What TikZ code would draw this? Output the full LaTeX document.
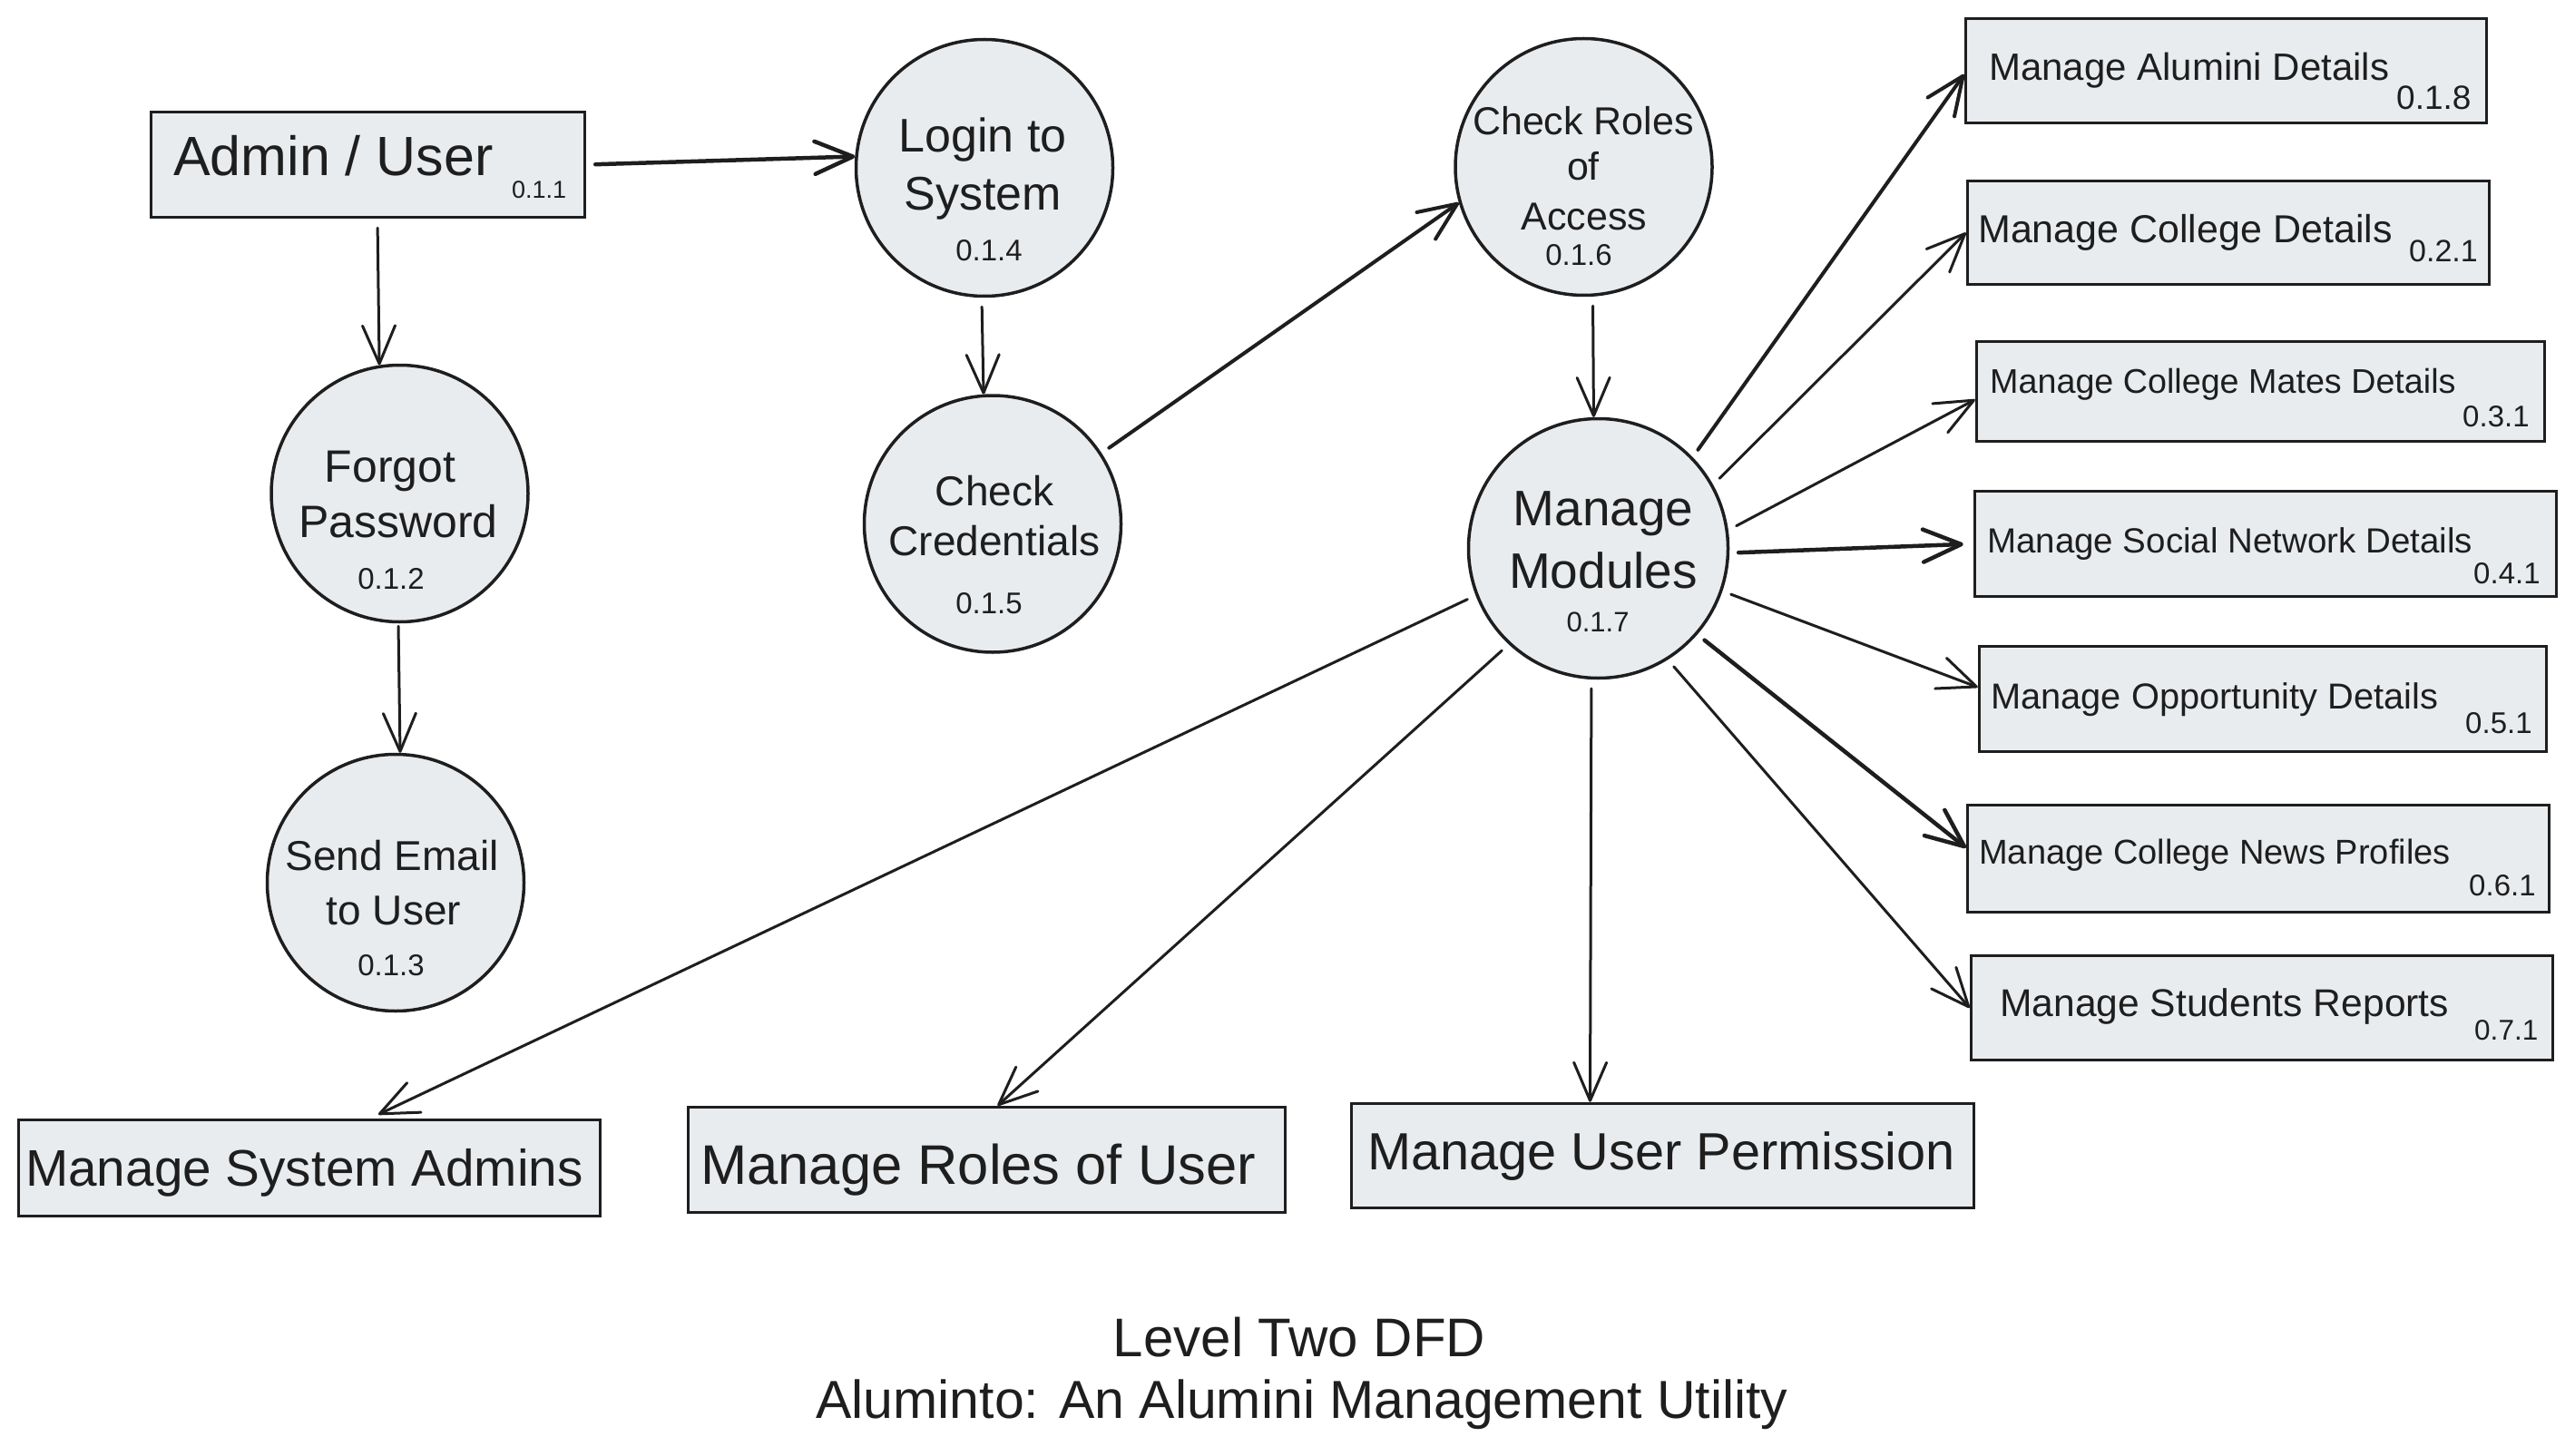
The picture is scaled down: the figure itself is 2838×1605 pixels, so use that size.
\documentclass[tikz,border=0pt]{standalone}
\usepackage{fontspec}
\setmainfont{Liberation Sans}
\usetikzlibrary{arrows.meta,calc}
\definecolor{ink}{HTML}{1E1E1E}
\definecolor{boxfill}{HTML}{E9ECEF}
\newcommand{\myfs}[1]{\fontsize{#1}{#1}\selectfont}
\begin{document}
\begin{tikzpicture}[x=1pt,y=-1pt,
 store/.style={rectangle, draw=ink, fill=boxfill, line width=3.5pt, inner sep=0pt},
 proc/.style={circle, draw=ink, fill=boxfill, line width=3.5pt, minimum size=283pt, inner sep=0pt},
 lbl/.style={anchor=base west, inner sep=0pt, text=ink},
 clbl/.style={anchor=base, inner sep=0pt, text=ink},
 arr/.style={draw=ink, line width=3pt, line cap=round, line join=round, shorten <=10pt,
   -{Straight Barb[length=42pt,width=36pt,line cap=round,line join=round]}},
]
\useasboundingbox (0,0) rectangle (2838,1605);

% ---------- process circles ----------
\node[proc] (forgot) at (440.5,544) {};
\node[proc] (send)   at (436,973) {};
\node[proc] (login)  at (1085,185) {};
\node[proc] (cc)     at (1094,577.5) {};
\node[proc] (cr)     at (1745.5,184) {};
\node[proc, minimum size=286pt] (mm) at (1761.5,604.5) {};

% ---------- stores / entities ----------
\node[store, minimum width=478pt, minimum height=116pt] (admin)   at (405.5,181.5) {};
\node[store, minimum width=574pt, minimum height=115pt] (alum)    at (2453.5,78) {};
\node[store, minimum width=575pt, minimum height=114pt] (coll)    at (2456,256.5) {};
\node[store, minimum width=626pt, minimum height=110pt] (mates)   at (2491.5,431.5) {};
\node[store, minimum width=641pt, minimum height=116pt] (social)  at (2497,599.5) {};
\node[store, minimum width=625pt, minimum height=116pt] (opp)     at (2494,770.5) {};
\node[store, minimum width=641pt, minimum height=118pt] (news)    at (2489,946.5) {};
\node[store, minimum width=641pt, minimum height=115pt] (reports) at (2493,1111) {};
\node[store, minimum width=641pt, minimum height=106pt] (sys)     at (341,1287.5) {};
\node[store, minimum width=658pt, minimum height=116pt] (roles)   at (1087.5,1278.5) {};
\node[store, minimum width=686pt, minimum height=115pt] (perm)    at (1832.5,1274) {};

% ---------- texts in circles ----------
\node[clbl] (forgot-a) at (430,531) {\myfs{50}Forgot};
\node[clbl] (forgot-b) at (439,592) {\myfs{50}Password};
\node[clbl] (forgot-n) at (431,649) {\myfs{33}0.1.2};

\node[clbl] (send-a) at (432,959) {\myfs{46}Send Email};
\node[clbl] (send-b) at (434,1019) {\myfs{46}to User};
\node[clbl] (send-n) at (431,1075) {\myfs{33}0.1.3};

\node[clbl] (login-a) at (1083,168) {\myfs{52}Login to};
\node[clbl] (login-b) at (1083,232) {\myfs{52}System};
\node[clbl] (login-n) at (1090,288) {\myfs{33}0.1.4};

\node[clbl] (cc-a) at (1096,557) {\myfs{46}Check};
\node[clbl] (cc-b) at (1096,612) {\myfs{46}Credentials};
\node[clbl] (cc-n) at (1090,676) {\myfs{33}0.1.5};

\node[clbl] (cr-a) at (1745,149) {\myfs{43}Check Roles};
\node[clbl] (cr-b) at (1745,199) {\myfs{43}of};
\node[clbl] (cr-c) at (1746,254) {\myfs{43}Access};
\node[clbl] (cr-n) at (1740,293) {\myfs{33}0.1.6};

\node[clbl] (mm-a) at (1767,579) {\myfs{55}Manage};
\node[clbl] (mm-b) at (1767,648) {\myfs{55}Modules};
\node[clbl] (mm-n) at (1761,696) {\myfs{31}0.1.7};

% ---------- texts in boxes ----------
\node[lbl] (admin-t) at (191,194) {\myfs{61}Admin / User};
\node[lbl] (admin-n) at (564,219) {\myfs{27}0.1.1};

\node[lbl] (alum-t) at (2192,89) {\myfs{42}Manage Alumini Details};
\node[lbl] (alum-n) at (2641,121) {\myfs{37}0.1.8};
\node[lbl] (coll-t) at (2180,268) {\myfs{43}Manage College Details};
\node[lbl] (coll-n) at (2655,289) {\myfs{34}0.2.1};
\node[lbl] (mates-t) at (2193,433) {\myfs{37.7}Manage College Mates Details};
\node[lbl] (mates-n) at (2714,470) {\myfs{33}0.3.1};
\node[lbl] (social-t) at (2190,609) {\myfs{38.5}Manage Social Network Details};
\node[lbl] (social-n) at (2726,643) {\myfs{33}0.4.1};
\node[lbl] (opp-t) at (2194,781) {\myfs{39.8}Manage Opportunity Details};
\node[lbl] (opp-n) at (2717,808) {\myfs{33}0.5.1};
\node[lbl] (news-t) at (2181,952) {\myfs{38}Manage College News Profiles};
\node[lbl] (news-n) at (2721,987) {\myfs{33}0.6.1};
\node[lbl] (reports-t) at (2204,1120) {\myfs{42.6}Manage Students Reports};
\node[lbl] (reports-n) at (2727,1146) {\myfs{31.5}0.7.1};

\node[lbl] (sys-t) at (28,1307) {\myfs{56.7}Manage System Admins};
\node[lbl] (roles-t) at (772,1305) {\myfs{61.5}Manage Roles of User};
\node[lbl] (perm-t) at (1507,1289) {\myfs{57.7}Manage User Permission};

% ---------- title ----------
\node[clbl] (title1) at (1432,1495) {\myfs{60}Level Two DFD};
\node[clbl] (title2) at (1435,1563) {\myfs{59}Aluminto: An Alumini Management Utility};

% ---------- connectors ----------
\draw[arr, line width=4.5pt] (admin.east) -- (login.175);
\draw[arr] ([xshift=10.5pt]admin.south) -- (forgot.99.7);
\draw[arr, shorten <=3pt] ([xshift=-1.5pt]forgot.south) -- (send.88.8);
\draw[arr] ([xshift=-3pt]login.south) -- (cc.94.8);
\draw[arr, line width=4pt] (cc.33.9) -- (cr.196);
\draw[arr] ([xshift=10pt]cr.south) -- (mm.92.4);

\draw[arr, line width=4pt] (mm.44.4) -- ([yshift=-4pt]alum.west);
\draw[arr] (mm.29.3) -- (coll.west);
\draw[arr] (mm.8.1) -- ([yshift=-9pt]mates.west);
\draw[arr, line width=4.5pt, shorten >=11pt] (mm.-2.6) -- (social.west);
\draw[arr] (mm.-19.3) -- ([yshift=13pt]opp.west);
\draw[arr, line width=4.5pt] (mm.-41) -- ([yshift=12pt]news.west);
\draw[arr] (mm.-58.3) -- (reports.west);
\draw[arr] (mm.-93.3) -- ([xshift=-80pt]perm.north);
\draw[arr] (mm.227.7) -- ([xshift=12pt]roles.north);
\draw[arr, shorten >=10pt] (mm.201.2) -- ([xshift=67pt]sys.north);
\end{tikzpicture}
\end{document}
